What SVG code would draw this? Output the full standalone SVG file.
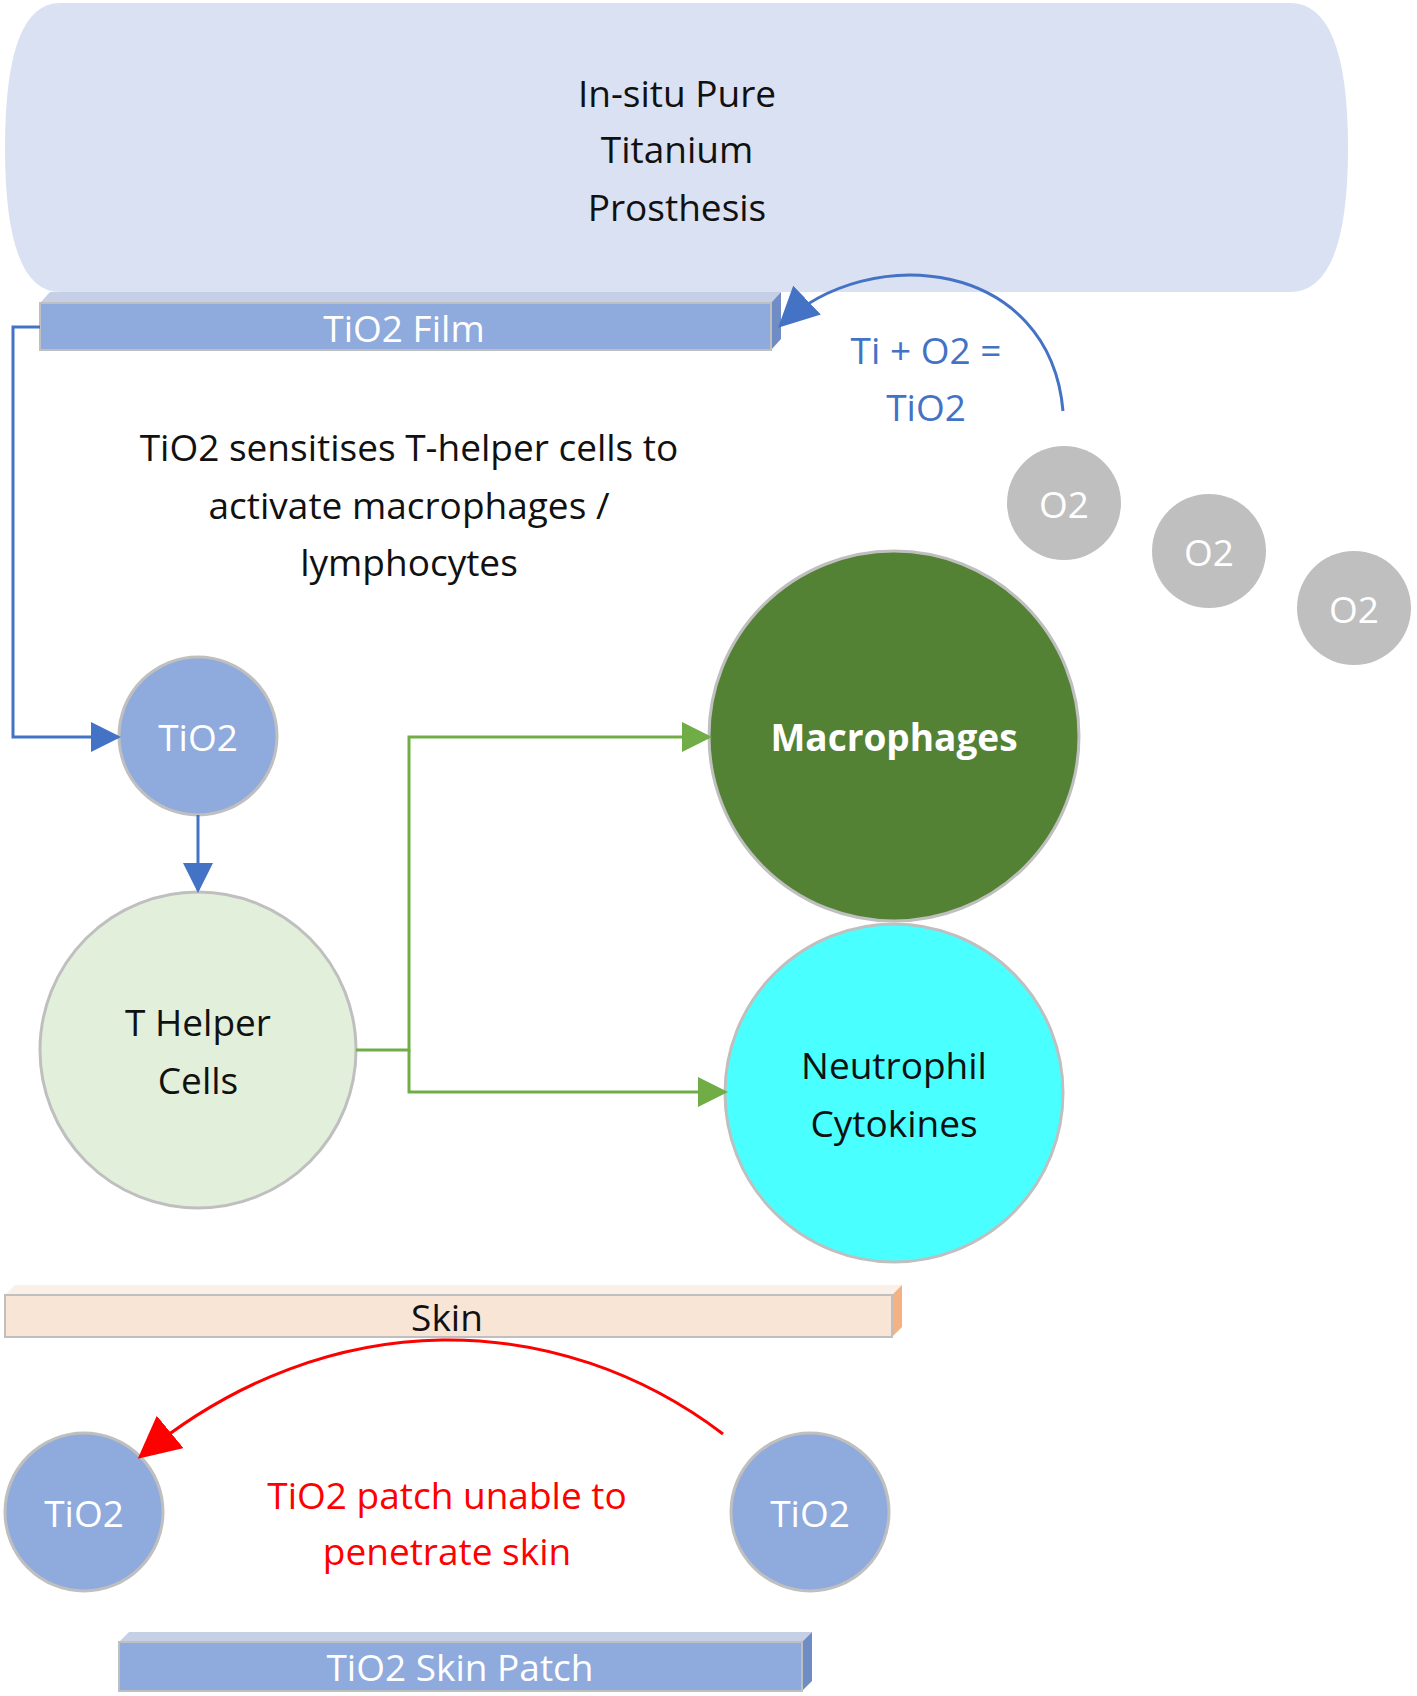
<svg xmlns="http://www.w3.org/2000/svg" width="1417" height="1696" viewBox="0 0 1417 1696">
<style>
text{font-family:"Open Sans","Liberation Sans",sans-serif;font-size:37px;text-anchor:middle;dominant-baseline:central}
.w{fill:#fff}.k{fill:#111}.b{fill:#4472C4}.r{fill:#FF0000}
.c{stroke:#BFBFBF;stroke-width:3}
</style>
<defs>
<marker id="ab" markerWidth="8" markerHeight="8" refX="7" refY="4" orient="auto" markerUnits="userSpaceOnUse" viewBox="0 0 8 8"><path d="M0,0L8,4L0,8z" fill="#4472C4"/></marker>
<marker id="ab2" viewBox="0 0 10 10" refX="9" refY="5" markerWidth="40" markerHeight="40" markerUnits="userSpaceOnUse" orient="auto"><path d="M0,0L10,5L0,10z" fill="#4472C4"/></marker>
<marker id="ag" viewBox="0 0 10 10" refX="9" refY="5" markerWidth="30" markerHeight="30" markerUnits="userSpaceOnUse" orient="auto"><path d="M0,0L10,5L0,10z" fill="#70AD47"/></marker>
<marker id="ar" viewBox="0 0 10 10" refX="9" refY="5" markerWidth="42" markerHeight="42" markerUnits="userSpaceOnUse" orient="auto"><path d="M0,0L10,5L0,10z" fill="#FF0000"/></marker>
<marker id="abs" viewBox="0 0 10 10" refX="9" refY="5" markerWidth="30" markerHeight="30" markerUnits="userSpaceOnUse" orient="auto"><path d="M0,0L10,5L0,10z" fill="#4472C4"/></marker>
</defs>
<g id="prosthesis">
<path d="M60,3 H1290 Q1348,3 1348,148 Q1348,292 1290,292 H60 Q5,292 5,148 Q5,3 60,3Z" fill="#DAE1F3"/>
<text x="677" y="92" class="k">In-situ Pure</text><text x="677" y="148" class="k">Titanium</text><text x="677" y="206" class="k">Prosthesis</text>
</g>
<g id="film">
<path d="M40,303 L50,292 H781 L771,303Z" fill="#C5D0E6"/>
<path d="M771,303 L781,292 V339 L771,350Z" fill="#6F8CC4"/>
<rect x="40" y="303" width="731" height="47" fill="#8FAADC" stroke="#BFBFBF" stroke-width="2"/>
<text x="404" y="327" class="w">TiO2 Film</text>
</g>
<g id="eq"><text x="926" y="349" class="b">Ti + O2 =</text><text x="926" y="406" class="b">TiO2</text></g>
<g id="desc" class="k"><text x="409" y="446" class="k">TiO2 sensitises T-helper cells to</text><text x="409" y="504" class="k">activate macrophages /</text><text x="409" y="561" class="k">lymphocytes</text></g>
<g id="o2a"><circle cx="1064" cy="503" r="57" fill="#BFBFBF"/><text x="1064" y="503" class="w">O2</text></g>
<g id="o2b"><circle cx="1209" cy="551" r="57" fill="#BFBFBF"/><text x="1209" y="551" class="w">O2</text></g>
<g id="o2c"><circle cx="1354" cy="608" r="57" fill="#BFBFBF"/><text x="1354" y="608" class="w">O2</text></g>
<g id="tio2"><circle cx="198" cy="736" r="79" fill="#8FAADC" class="c"/><text x="198" y="736" class="w">TiO2</text></g>
<g id="th"><circle cx="198" cy="1050" r="158" fill="#E2EFDA" class="c"/><text x="198" y="1021" class="k">T Helper</text><text x="198" y="1079" class="k">Cells</text></g>
<g id="mac"><circle cx="894" cy="736" r="185" fill="#548235" class="c"/><text x="894" y="736" class="w" font-weight="bold">Macrophages</text></g>
<g id="neu"><circle cx="894" cy="1093" r="169" fill="#49FFFF" class="c"/><text x="894" y="1064" class="k">Neutrophil</text><text x="894" y="1122" class="k">Cytokines</text></g>
<g id="skin">
<path d="M5,1295 L15,1285 H902 L892,1295Z" fill="#FBF0E7"/>
<path d="M892,1295 L902,1285 V1327 L892,1337Z" fill="#F4B183"/>
<rect x="5" y="1295" width="887" height="42" fill="#F8E5D6" stroke="#BFBFBF" stroke-width="2"/>
<text x="447" y="1316" class="k">Skin</text>
</g>
<g id="t1"><circle cx="84" cy="1512" r="79" fill="#8FAADC" class="c"/><text x="84" y="1512" class="w">TiO2</text></g>
<g id="t2"><circle cx="810" cy="1512" r="79" fill="#8FAADC" class="c"/><text x="810" y="1512" class="w">TiO2</text></g>
<g id="rt"><text x="447" y="1494" class="r">TiO2 patch unable to</text><text x="447" y="1550" class="r">penetrate skin</text></g>
<g id="patch">
<path d="M119,1642 L129,1632 H812 L802,1642Z" fill="#C5D0E6"/>
<path d="M802,1642 L812,1632 V1681 L802,1691Z" fill="#6F8CC4"/>
<rect x="119" y="1642" width="683" height="49" fill="#8FAADC" stroke="#BFBFBF" stroke-width="2"/>
<text x="460" y="1666" class="w">TiO2 Skin Patch</text>
</g>
<g id="connectors" fill="none">
<path d="M1063,411 C1050,260 870,240 781,325" stroke="#4472C4" stroke-width="3" marker-end="url(#ab2)"/>
<path d="M40,327 H13 V737 H118" stroke="#4472C4" stroke-width="3" marker-end="url(#abs)"/>
<path d="M198,815 V890" stroke="#4472C4" stroke-width="3" marker-end="url(#abs)"/>
<path d="M356,1050 H409 V737 H709" stroke="#70AD47" stroke-width="3" marker-end="url(#ag)"/>
<path d="M409,1050 V1092 H725" stroke="#70AD47" stroke-width="3" marker-end="url(#ag)"/>
<path d="M723,1434 C560,1310 330,1300 141,1456" stroke="#FF0000" stroke-width="3" marker-end="url(#ar)"/>
</g>
</svg>
